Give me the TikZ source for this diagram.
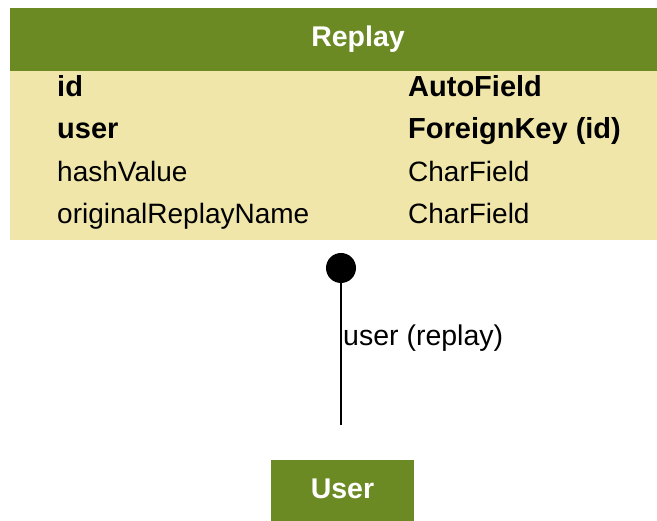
\documentclass[tikz,border=0pt]{standalone}
\usepackage{fontspec}
\setmainfont{Liberation Sans}
\definecolor{hdrgreen}{HTML}{6B8A23}
\definecolor{bodyyellow}{HTML}{F0E6AA}
\tikzset{
  hdr/.style={fill=hdrgreen, draw=none, inner sep=0pt},
  hdrtext/.style={text=white, inner sep=0pt, font=\fontsize{28.5}{32}\selectfont\bfseries},
  bodybox/.style={fill=bodyyellow, draw=none, inner sep=0pt},
  cell/.style={anchor=base west, inner sep=0pt, font=\fontsize{28}{32}\selectfont},
  cellb/.style={cell, font=\fontsize{29}{32}\selectfont\bfseries},
  rel/.style={line width=2.6pt, draw=black},
  lbl/.style={anchor=west, inner sep=0pt, font=\fontsize{28.5}{32}\selectfont},
}
\begin{document}
\begin{tikzpicture}[x=1pt,y=1pt]
\useasboundingbox (0,0) rectangle (657,-521);
\clip (0,0) rectangle (657,-521);
% Replay table
\node[hdr, minimum width=696pt, minimum height=63pt, anchor=north west] (replay) at (10,-8) {};
\node[hdrtext] (replaytitle) at (358,-39) {Replay};
\node[bodybox, minimum width=696pt, minimum height=169pt, anchor=north west] (replaybody) at (10,-71) {};
\node[cellb] (f1) at (57,-97) {id};
\node[cellb] (t1) at (408,-97) {AutoField};
\node[cellb] (f2) at (57,-139) {user};
\node[cellb] (t2) at (408,-139) {ForeignKey (id)};
\node[cell] (f3) at (57,-182) {hashValue};
\node[cell] (t3) at (408,-182) {CharField};
\node[cell] (f4) at (57,-224) {originalReplayName};
\node[cell] (t4) at (408,-224) {CharField};
% User table
\node[hdr, minimum width=143pt, minimum height=62pt, anchor=north west] (user) at (271,-460) {};
\node[hdrtext] (usertitle) at (342.5,-489) {User};
% Relation
\coordinate (dot) at (341,-268);
\coordinate (lineend) at (341,-425);
\draw[rel] (dot) -- (lineend);
\fill (dot) circle (15pt);
\node[lbl] (rellabel) at (343,-338) {user (replay)};
\end{tikzpicture}
\end{document}
